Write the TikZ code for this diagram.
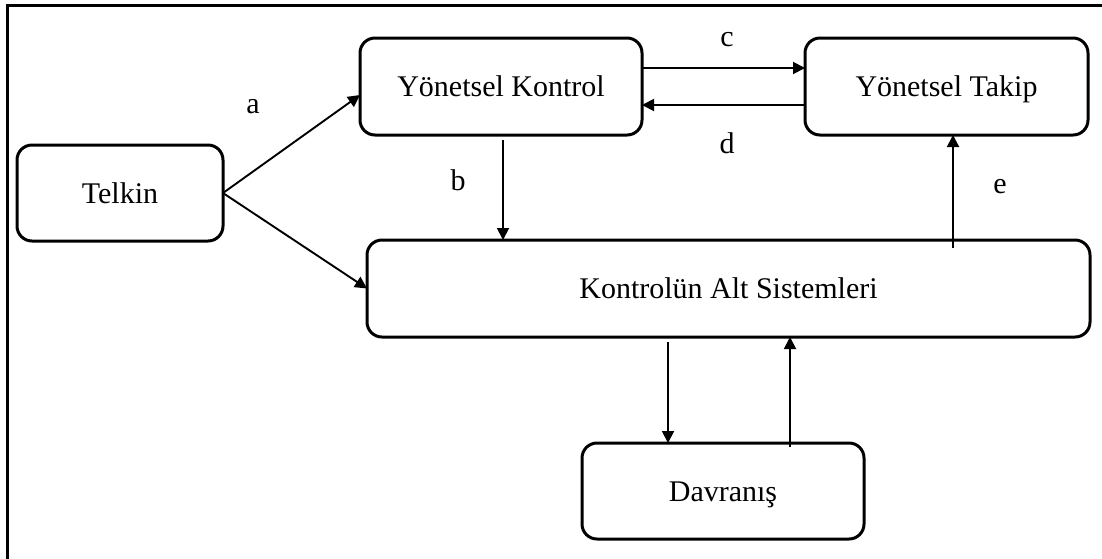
\documentclass[tikz,border=0pt]{standalone}
\usepackage{fontspec}
\setmainfont{Liberation Serif}
\usetikzlibrary{arrows.meta}
\begin{document}
\begin{tikzpicture}[x=1pt,y=-1pt,
  box/.style={draw,line width=3pt,rounded corners=15pt,inner sep=0pt,outer sep=0pt,
    font=\fontsize{30}{36}\selectfont,text height=20.4pt,text depth=0pt},
  conn/.style={line width=1.9pt,-{Triangle[length=12pt,width=12pt]}},
  lbl/.style={font=\fontsize{30}{36}\selectfont,inner sep=0pt}]
\useasboundingbox (0,0) rectangle (1102,558);
\draw[line width=3pt] (7,570) -- (7,5) -- (1110,5);
\node[box,minimum width=206pt,minimum height=96pt] (telkin) at (120,193) {Telkin};
\node[box,minimum width=282pt,minimum height=97pt] (kontrol) at (501,86.5) {Yönetsel Kontrol};
\node[box,minimum width=283pt,minimum height=97pt] (takip) at (946.5,86.5) {Yönetsel Takip};
\node[box,minimum width=723pt,minimum height=97pt] (alt) at (728.5,288.5) {Kontrolün Alt Sistemleri};
\node[box,minimum width=282pt,minimum height=96pt] (dav) at (723,491) {Davranış};
\coordinate (b1) at (503,140);
\coordinate (e1) at (953,248);
\coordinate (f1) at (668,342);
\coordinate (g1) at (790,447);
\draw[conn] (telkin.east) -- ([yshift=-8.5pt]kontrol.west);
\draw[conn] (telkin.east) -- (alt.west);
\draw[conn] ([yshift=18.5pt]kontrol.east) -- ([yshift=18.5pt]takip.west);
\draw[conn] ([yshift=-18.5pt]takip.west) -- ([yshift=-18.5pt]kontrol.east);
\draw[conn] (b1) -- (b1 |- alt.north);
\draw[conn] (e1) -- (e1 |- takip.south);
\draw[conn] (f1) -- (f1 |- dav.north);
\draw[conn] (g1) -- (g1 |- alt.south);
\node[lbl] (la) at (253,107) {a};
\node[lbl] (lb) at (458,180) {b};
\node[lbl] (lc) at (727,40) {c};
\node[lbl] (ld) at (727,143) {d};
\node[lbl] (le) at (1000,187) {e};
\end{tikzpicture}
\end{document}
